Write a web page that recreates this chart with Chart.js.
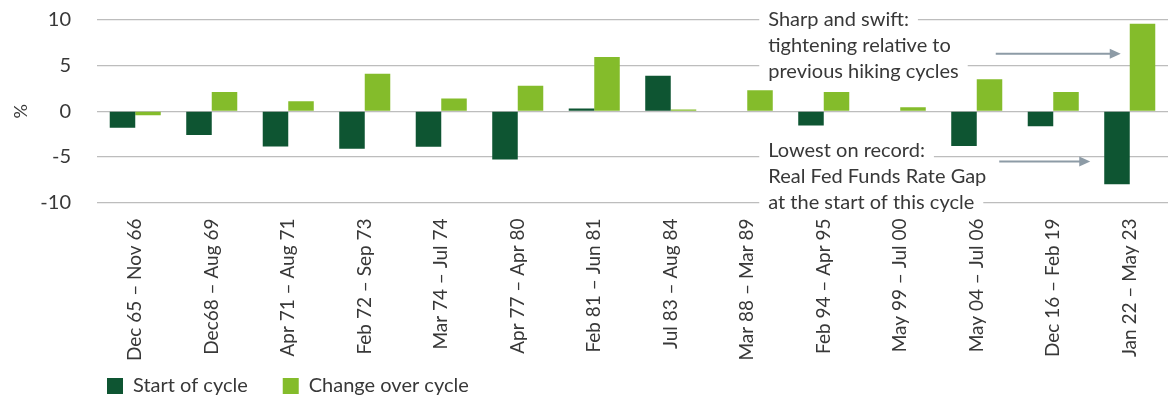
<!DOCTYPE html>
<html>
<head>
<meta charset="utf-8">
<script src="https://cdn.jsdelivr.net/npm/chart.js@4/dist/chart.umd.min.js"></script>
<style>
  html, body { margin: 0; padding: 0; background: #ffffff; }
  #wrap { width: 1174px; height: 403px; position: relative; }
</style>
</head>
<body>
<div id="wrap"><canvas id="c" width="1174" height="403"></canvas></div>
<script>
const categories = ['Dec 65 – Nov 66','Dec68 – Aug 69','Apr 71 – Aug 71','Feb 72 – Sep 73','Mar 74 – Jul 74','Apr 77 – Apr 80','Feb 81 – Jun 81','Jul 83 – Aug 84','Mar 88 – Mar 89','Feb 94 – Apr 95','May 99 – Jul 00','May 04 – Jul 06','Dec 16 – Feb 19','Jan 22 – May 23'];
const startOfCycle = [-1.8, -2.6, -3.85, -4.1, -3.9, -5.3, 0.3, 3.9, 0.05, -1.55, 0.05, -3.8, -1.65, -8.0];
const changeOverCycle = [-0.45, 2.1, 1.1, 4.1, 1.4, 2.8, 5.95, 0.2, 2.3, 2.1, 0.45, 3.5, 2.1, 9.6];
const yTicks = [-10, -5, 0, 5, 10];
const seriesNames = ['Start of cycle', 'Change over cycle'];
const noteTop = ['Sharp and swift:', 'tightening relative to', 'previous hiking cycles'];
const noteBottom = ['Lowest on record:', 'Real Fed Funds Rate Gap', 'at the start of this cycle'];

const FONT = 'Lato, "Open Sans", sans-serif';
const W = '400';
const TXT = '#383838';
const DARK = '#0e5532';
const LIGHT = '#84bc2b';
const ARROW = '#8d9ba6';

const notesPlugin = {
  id: 'notes',
  afterLayout(chart) {
    chart.legend.left = 72;
    chart.legend.top = 341;
  },
  beforeDatasetsDraw(chart) {
    const ctx = chart.ctx;
    const {x, y} = chart.scales;
    const tx = x.getPixelForValue(8) + 21;
    const yTop = y.getPixelForValue(10);
    const yBot = y.getPixelForValue(-10);
    ctx.save();
    ctx.font = W + ' 20px ' + FONT;
    ctx.fillStyle = '#ffffff';
    noteTop.forEach((t, i) => {
      const w = ctx.measureText(t).width;
      ctx.fillRect(tx - 9, yTop + i * 26 - 11, w + 18, 22);
    });
    noteBottom.forEach((t, i) => {
      const w = ctx.measureText(t).width;
      ctx.fillRect(tx - 9, yBot - (2 - i) * 26 - 11, w + 18, 22);
    });
    ctx.restore();
  },
  afterDraw(chart) {
    const ctx = chart.ctx;
    const {x, y} = chart.scales;
    const tx = x.getPixelForValue(8) + 21;
    const yTop = y.getPixelForValue(10);
    const yBot = y.getPixelForValue(-10);
    ctx.save();
    ctx.font = W + ' 20px ' + FONT;
    ctx.fillStyle = TXT;
    ctx.textBaseline = 'middle';
    ctx.textAlign = 'left';
    noteTop.forEach((t, i) => ctx.fillText(t, tx, yTop + i * 26));
    noteBottom.forEach((t, i) => ctx.fillText(t, tx, yBot - (2 - i) * 26));

    const last = categories.length - 1;
    const lightBar = chart.getDatasetMeta(1).data[last];
    const darkBar = chart.getDatasetMeta(0).data[last];
    const arrow = (x0, x1, yy) => {
      ctx.strokeStyle = ARROW;
      ctx.fillStyle = ARROW;
      ctx.lineWidth = 2;
      ctx.beginPath();
      ctx.moveTo(x0, yy);
      ctx.lineTo(x1 - 9, yy);
      ctx.stroke();
      ctx.beginPath();
      ctx.moveTo(x1, yy);
      ctx.lineTo(x1 - 11, yy - 5);
      ctx.lineTo(x1 - 11, yy + 5);
      ctx.closePath();
      ctx.fill();
    };
    const lx = lightBar.x - lightBar.width / 2;
    const dx = darkBar.x - darkBar.width / 2;
    arrow(lx - 134, lx - 9, y.getPixelForValue(6.3));
    arrow(dx - 105, dx - 14, y.getPixelForValue(-5.5));
    ctx.restore();
  }
};

new Chart(document.getElementById('c'), {
  type: 'bar',
  data: {
    labels: categories,
    datasets: [
      { label: seriesNames[0], data: startOfCycle, backgroundColor: DARK, borderWidth: 0 },
      { label: seriesNames[1], data: changeOverCycle, backgroundColor: LIGHT, borderWidth: 0 }
    ]
  },
  options: {
    responsive: false,
    animation: false,
    devicePixelRatio: 1,
    categoryPercentage: 0.667,
    barPercentage: 1,
    layout: { padding: { top: 20, right: 6, left: 0, bottom: 0 } },
    plugins: {
      tooltip: { enabled: false },
      legend: {
        position: 'bottom',
        align: 'start',
        maxHeight: 40,
        labels: {
          boxWidth: 16,
          boxHeight: 16,
          padding: 35,
          color: TXT,
          font: { family: FONT, size: 20, weight: W }
        }
      }
    },
    scales: {
      x: {
        grid: { display: false, drawTicks: false },
        border: { display: false },
        ticks: {
          color: TXT,
          font: { family: FONT, size: 19, weight: W },
          minRotation: 90,
          maxRotation: 90,
          padding: 16,
          autoSkip: false
        },
        afterFit(scale) { scale.height = 160.5; }
      },
      y: {
        min: -10,
        max: 10,
        afterBuildTicks(scale) { scale.ticks = yTicks.map(v => ({ value: v })); },
        grid: { color: '#bdbdbd', lineWidth: 1.2, drawTicks: true, tickLength: 26, tickColor: 'rgba(0,0,0,0)' },
        border: { display: false },
        ticks: {
          color: TXT,
          font: { family: FONT, size: 20, weight: W },
          padding: 0
        },
        title: {
          display: true,
          text: '%',
          color: TXT,
          font: { family: FONT, size: 18, weight: W },
          padding: { top: 10, bottom: 0 }
        },
        afterFit(scale) { scale.width = 97; }
      }
    }
  },
  plugins: [notesPlugin]
});
</script>
</body>
</html>
